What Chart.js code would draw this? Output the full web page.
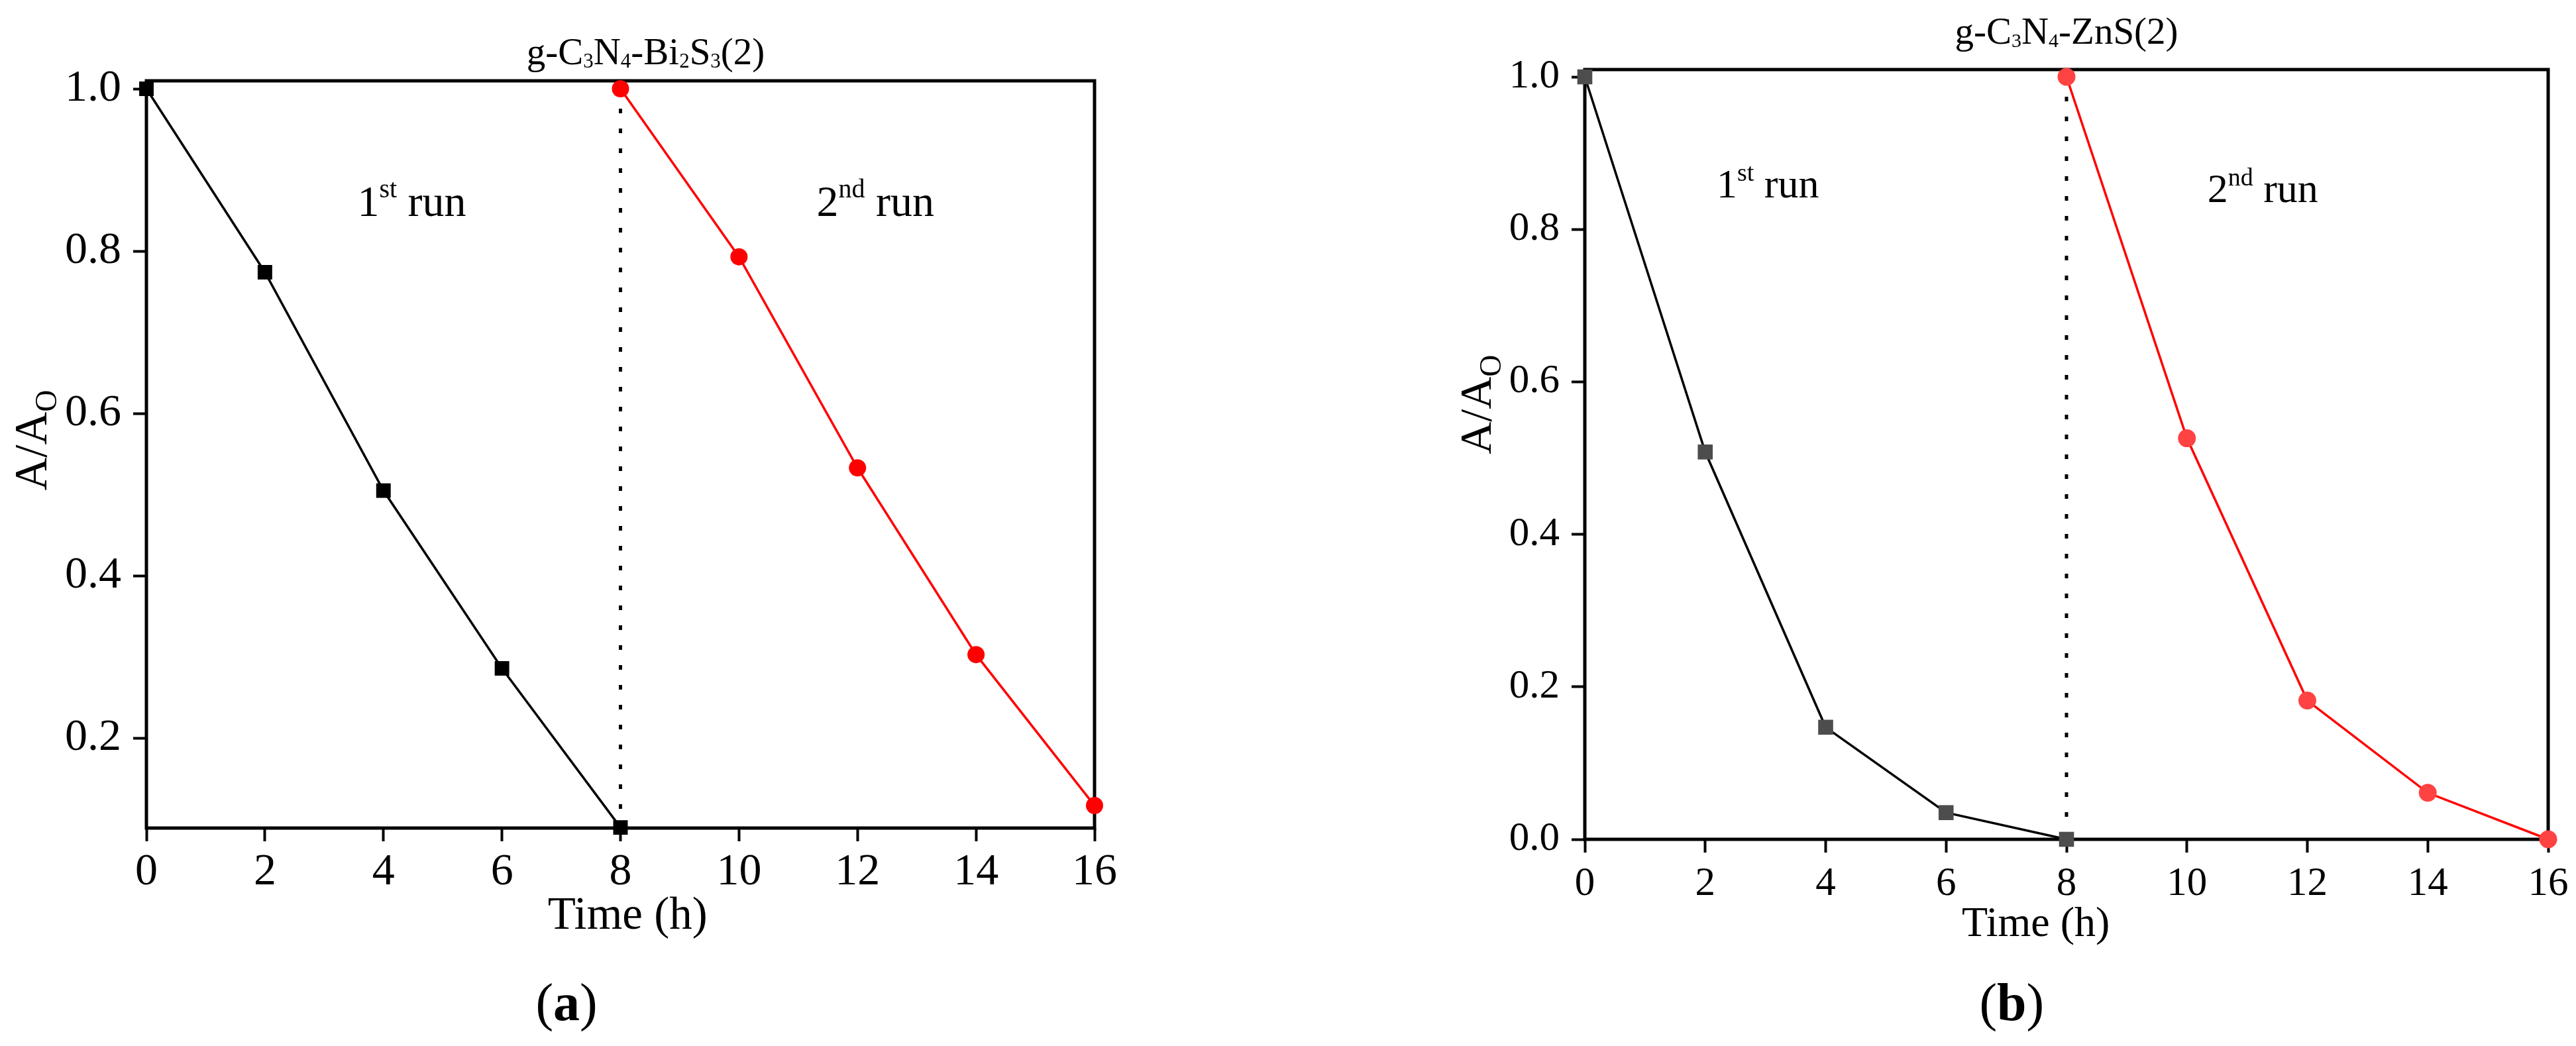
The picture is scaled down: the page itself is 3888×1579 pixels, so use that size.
<!DOCTYPE html>
<html>
<head>
<meta charset="utf-8">
<script src="https://cdn.jsdelivr.net/npm/chart.js@4.4.0/dist/chart.umd.min.js"></script>
<style>
  html, body { margin: 0; padding: 0; background: #fff; }
  body { width: 3888px; height: 1579px; position: relative; overflow: hidden; }
  .panel { position: absolute; top: 0; width: 1944px; height: 1579px; }
</style>
</head>
<body>
<div class="panel" style="left:0"><canvas id="chartA" width="1944" height="1579"></canvas></div>
<div class="panel" style="left:1944px"><canvas id="chartB" width="1944" height="1579"></canvas></div>
<script>
// time axis (h)
const timeRun1 = [0, 2, 4, 6, 8];
const timeRun2 = [8, 10, 12, 14, 16];
const timeDivider = [8, 8];

// (a) g-C3N4-Bi2S3(2)
const ratioA1 = [1.0, 0.774, 0.505, 0.286, 0.090];
const ratioA2 = [1.0, 0.793, 0.533, 0.303, 0.117];
const dividerA = [1.0, 0.0893];
const yTicksA = [0.2, 0.4, 0.6, 0.8, 1.0];
const yRangeA = [0.0893, 1.0098];

// (b) g-C3N4-ZnS(2)
const ratioB1 = [1.0, 0.508, 0.147, 0.035, 0.0];
const ratioB2 = [1.0, 0.526, 0.182, 0.061, 0.0];
const dividerB = [1.0, 0.0];
const yTicksB = [0.0, 0.2, 0.4, 0.6, 0.8, 1.0];
const yRangeB = [0, 1.0096];

const xRange = [0, 16];
const xStep = 2;

// rich text pieces: [text, kind]
const titleA = [['g-C'], ['3', 'sub'], ['N'], ['4', 'sub'], ['-Bi'], ['2', 'sub'], ['S'], ['3', 'sub'], ['(2)']];
const titleB = [['g-C'], ['3', 'sub'], ['N'], ['4', 'sub'], ['-ZnS(2)']];
const run1Text = [['1'], ['st', 'sup'], [' run']];
const run2Text = [['2'], ['nd', 'sup'], [' run']];
const yTitle = [['A/A'], ['O', 'sub']];
const xTitle = [['Time (h)']];
const panelA = [['('], ['a', 'bold'], [')']];
const panelB = [['('], ['b', 'bold'], [')']];

const FONT = 'Liberation Serif, serif';
Chart.defaults.color = '#000';
Chart.defaults.font.family = FONT;

const pairs = (xs, ys) => xs.map((x, i) => ({ x: x, y: ys[i] }));

function drawRich(ctx, parts, x, y, st, align) {
  const fontOf = p => {
    const k = p[1];
    const size = k === 'sub' ? st.subSize : k === 'sup' ? st.supSize : st.size;
    return (k === 'bold' ? 'bold ' : '') + size + 'px ' + FONT;
  };
  let w = 0;
  parts.forEach(p => { ctx.font = fontOf(p); w += ctx.measureText(p[0]).width; });
  let cx = align === 'center' ? x - w / 2 : x;
  ctx.textAlign = 'left';
  ctx.textBaseline = 'alphabetic';
  parts.forEach(p => {
    ctx.font = fontOf(p);
    const dy = p[1] === 'sub' ? st.subShift : p[1] === 'sup' ? -st.supShift : 0;
    ctx.fillText(p[0], cx, y + dy);
    cx += ctx.measureText(p[0]).width;
  });
}

function textPlugin(t) {
  return {
    id: 'panelText',
    beforeDatasetsDraw(chart) {
      const { ctx, chartArea: a } = chart;
      ctx.save();
      ctx.strokeStyle = '#000';
      ctx.lineWidth = 5;
      ctx.strokeRect(a.left, a.top, a.right - a.left, a.bottom - a.top);
      ctx.restore();
    },
    afterDraw(chart) {
      const { ctx, chartArea: a, scales: { x, y } } = chart;
      ctx.save();
      ctx.fillStyle = '#000';
      drawRich(ctx, t.title, (a.left + a.right) / 2 + t.titleDx, a.top + t.titleDy, t.titleStyle, 'center');
      drawRich(ctx, run1Text, x.getPixelForValue(t.run1[0]), y.getPixelForValue(t.run1[1]), t.runStyle, 'left');
      drawRich(ctx, run2Text, x.getPixelForValue(t.run2[0]), y.getPixelForValue(t.run2[1]), t.runStyle, 'left');
      drawRich(ctx, xTitle, x.getPixelForValue(t.xTitleAt), a.bottom + t.xTitleDy, t.axisStyle, 'center');
      drawRich(ctx, t.panel, x.getPixelForValue(t.panelAt), a.bottom + t.panelDy, t.panelStyle, 'center');
      ctx.translate(a.left - t.yTitleDx, y.getPixelForValue(t.yTitleFrom));
      ctx.rotate(-Math.PI / 2);
      drawRich(ctx, yTitle, 0, 0, t.yStyle, 'left');
      ctx.restore();
    }
  };
}

function buildChart(id, d) {
  const tickFont = { family: FONT, size: d.tickSize };
  return new Chart(document.getElementById(id), {
    type: 'line',
    data: {
      datasets: [
        {
          data: pairs(timeRun1, d.run1),
          borderColor: '#000', borderWidth: 3.5,
          pointStyle: 'rect', pointRadius: d.squareR,
          pointBackgroundColor: d.squareColor, pointBorderColor: d.squareColor, pointBorderWidth: 0,
          clip: false
        },
        {
          data: pairs(timeRun2, d.run2),
          borderColor: '#ff0000', borderWidth: 3.5,
          pointStyle: 'circle', pointRadius: d.circleR,
          pointBackgroundColor: d.circleColor, pointBorderColor: d.circleColor, pointBorderWidth: 0,
          clip: false
        },
        {
          data: pairs(timeDivider, d.divider),
          borderColor: '#000', borderWidth: 5, borderDash: [7, 23],
          pointRadius: 0, clip: false
        }
      ]
    },
    options: {
      responsive: false,
      animation: false,
      events: [],
      layout: { padding: d.padding },
      plugins: { legend: { display: false }, tooltip: { enabled: false } },
      scales: {
        x: {
          type: 'linear', min: xRange[0], max: xRange[1],
          afterFit: s => { s.height = 100; },
          border: { display: false },
          grid: { drawOnChartArea: false, tickLength: 20, tickWidth: 4, tickColor: '#000' },
          ticks: { stepSize: xStep, autoSkip: false, maxRotation: 0, padding: d.xPad, color: '#000',
                   font: tickFont, callback: v => String(v) }
        },
        y: {
          min: d.yRange[0], max: d.yRange[1],
          afterFit: s => { s.width = d.yAxisW; },
          afterBuildTicks: s => { s.ticks = d.yTicks.map(v => ({ value: v })); },
          border: { display: false },
          grid: { drawOnChartArea: false, tickLength: 20, tickWidth: 4, tickColor: '#000' },
          ticks: { padding: 18, color: '#000', font: tickFont, callback: v => v.toFixed(1) }
        }
      }
    },
    plugins: [textPlugin(d.text)]
  });
}

buildChart('chartA', {
  run1: ratioA1, run2: ratioA2, divider: dividerA,
  yTicks: yTicksA, yRange: yRangeA,
  squareColor: '#000', circleColor: '#ff0000', squareR: 15.5, circleR: 13,
  padding: { left: 0, top: 122, right: 292, bottom: 229 },
  yAxisW: 221, xPad: 6, tickSize: 68,
  text: {
    title: titleA, titleDx: 38, titleDy: -25,
    titleStyle: { size: 57, subSize: 31, subShift: 5 },
    run1: [3.56, 0.843], run2: [11.31, 0.843],
    runStyle: { size: 66, supSize: 40, supShift: 28 },
    xTitleAt: 8.12, xTitleDy: 152, axisStyle: { size: 69 },
    panel: panelA, panelAt: 7.09, panelDy: 290, panelStyle: { size: 80 },
    yTitleDx: 151, yTitleFrom: 0.505, yStyle: { size: 69, subSize: 46, subShift: 15 }
  }
});

buildChart('chartB', {
  run1: ratioB1, run2: ratioB2, divider: dividerB,
  yTicks: yTicksB, yRange: yRangeB,
  squareColor: '#4d4d4d', circleColor: '#ff4242', squareR: 16, circleR: 13.5,
  padding: { left: 0, top: 105, right: 42, bottom: 212 },
  yAxisW: 448, xPad: 11, tickSize: 61,
  text: {
    title: titleB, titleDx: 0, titleDy: -39,
    titleStyle: { size: 57, subSize: 30, subShift: 5 },
    run1: [2.19, 0.842], run2: [10.34, 0.836],
    runStyle: { size: 62, supSize: 38, supShift: 25 },
    xTitleAt: 7.49, xTitleDy: 146, axisStyle: { size: 64 },
    panel: panelB, panelAt: 7.09, panelDy: 273, panelStyle: { size: 80 },
    yTitleDx: 142, yTitleFrom: 0.505, yStyle: { size: 68, subSize: 46, subShift: 15 }
  }
});
</script>
</body>
</html>
